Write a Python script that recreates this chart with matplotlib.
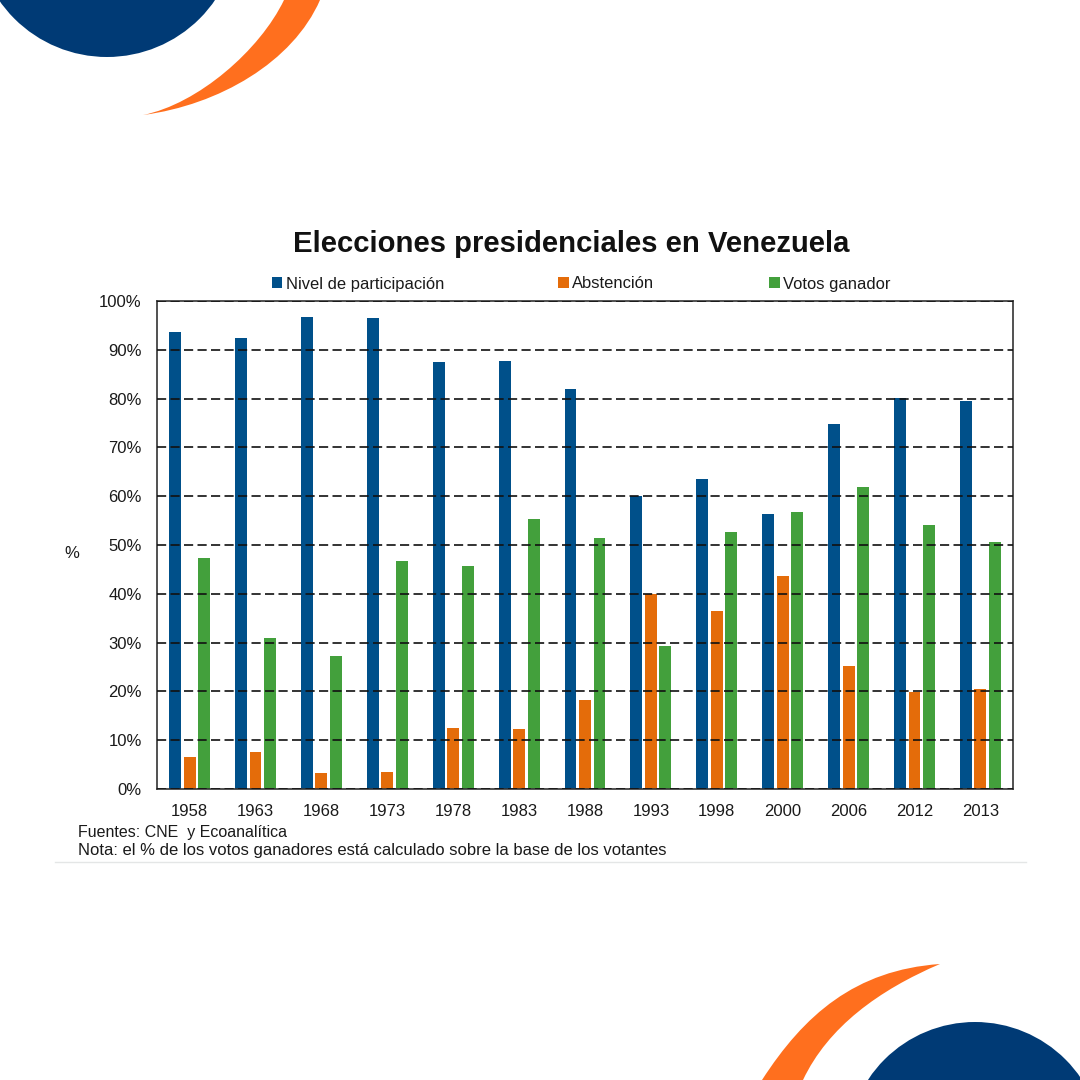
import numpy as np
import matplotlib
matplotlib.use('Agg')
import matplotlib.pyplot as plt
from matplotlib.patches import Circle, PathPatch
from matplotlib.path import Path

plt.rcParams['font.family'] = ['Liberation Sans', 'DejaVu Sans']

# values
years = ['1958', '1963', '1968', '1973', '1978', '1983', '1988',
         '1993', '1998', '2000', '2006', '2012', '2013']
participacion = [93.6, 92.4, 96.8, 96.5, 87.6, 87.8, 81.9, 60.1, 63.5, 56.3, 74.7, 80.1, 79.6]
abstencion = [6.6, 7.6, 3.2, 3.5, 12.4, 12.2, 18.2, 39.9, 36.4, 43.7, 25.3, 19.9, 20.4]
votos_ganador = [47.3, 31.0, 27.2, 46.7, 45.7, 55.3, 51.4, 29.4, 52.7, 56.8, 61.9, 54.0, 50.6]
yticks = [0, 10, 20, 30, 40, 50, 60, 70, 80, 90, 100]

W = 1080.
BLUE = '#00508A'
ORANGE = '#E46C0A'
GREEN = '#43A03C'
NAVY = '#003A75'
ARC = '#FF6F1E'
DARK = '#1A1A1A'

fig = plt.figure(figsize=(10.8, 10.8), dpi=100)

# background layer in pixel coordinates for the logo shapes
bg = fig.add_axes([0, 0, 1, 1])
bg.set_xlim(0, W)
bg.set_ylim(W, 0)
bg.axis('off')
bg.add_patch(Circle((107, -74), 131, color=NAVY, lw=0))
bg.add_patch(Circle((975, 1150), 128, color=NAVY, lw=0))

# two bezier sides meeting at the tip of the arc
def crescent(pts):
    codes = [Path.MOVETO] + [Path.CURVE4] * 6
    bg.add_patch(PathPatch(Path(pts, codes), fc=ARC, lw=0))

crescent([(320, 0), (293, 62), (219, 105), (143, 115),
          (198, 104), (260, 50), (284, 0)])
crescent([(762, 1080), (804, 1015), (855, 970), (940, 964),
          (879, 990), (828, 1027), (803, 1080)])
bg.plot([55, 1026], [862, 862], color='#E4E6E6', lw=1)

# main chart
ax = fig.add_axes([157 / W, 1 - 789 / W, 856 / W, 488 / W])
x = np.arange(len(years))
w = 0.18
step = 0.22
ax.bar(x - step, participacion, w, color=BLUE, label='Nivel de participación', zorder=2)
ax.bar(x, abstencion, w, color=ORANGE, label='Abstención', zorder=2)
ax.bar(x + step, votos_ganador, w, color=GREEN, label='Votos ganador', zorder=2)

ax.set_xlim(-0.495, len(years) - 0.505)
ax.set_ylim(0, 100)
ax.set_xticks(x)
ax.set_xticklabels(years)
ax.set_yticks(yticks)
ax.set_yticklabels(['{}%'.format(t) for t in yticks])
ax.tick_params(axis='y', length=0, labelsize=12, colors=DARK, pad=11)
ax.tick_params(axis='x', length=0, labelsize=12, colors=DARK, pad=11)
ax.yaxis.grid(True, color='#111111', linestyle=(0, (5.5, 2.6)), linewidth=1.2, zorder=3)
ax.set_axisbelow(False)
ax.xaxis.grid(False)
for s in ax.spines.values():
    s.set_color('#333333')
    s.set_linewidth(1.2)

ax.legend(loc='center', bbox_to_anchor=(581 / W, 1 - 284 / W), bbox_transform=fig.transFigure,
          ncols=3, frameon=False, fontsize=11.9, handlelength=0.65, handleheight=0.65,
          handletextpad=0.2, columnspacing=6.92, labelcolor=DARK)

fig.text(571.5 / W, 1 - 244.5 / W, 'Elecciones presidenciales en Venezuela', ha='center', va='center',
         fontsize=21.05, fontweight='bold', color='#111111')
fig.text(72 / W, 1 - 553.5 / W, '%', ha='center', va='center', fontsize=12, color=DARK)
fig.text(78 / W, 1 - 832 / W, 'Fuentes: CNE  y Ecoanalítica', ha='left', va='center',
         fontsize=11.5, color=DARK)
fig.text(78 / W, 1 - 850 / W, 'Nota: el % de los votos ganadores está calculado sobre la base de los votantes',
         ha='left', va='center', fontsize=11.95, color=DARK)

fig.savefig('out.png', dpi=100)
